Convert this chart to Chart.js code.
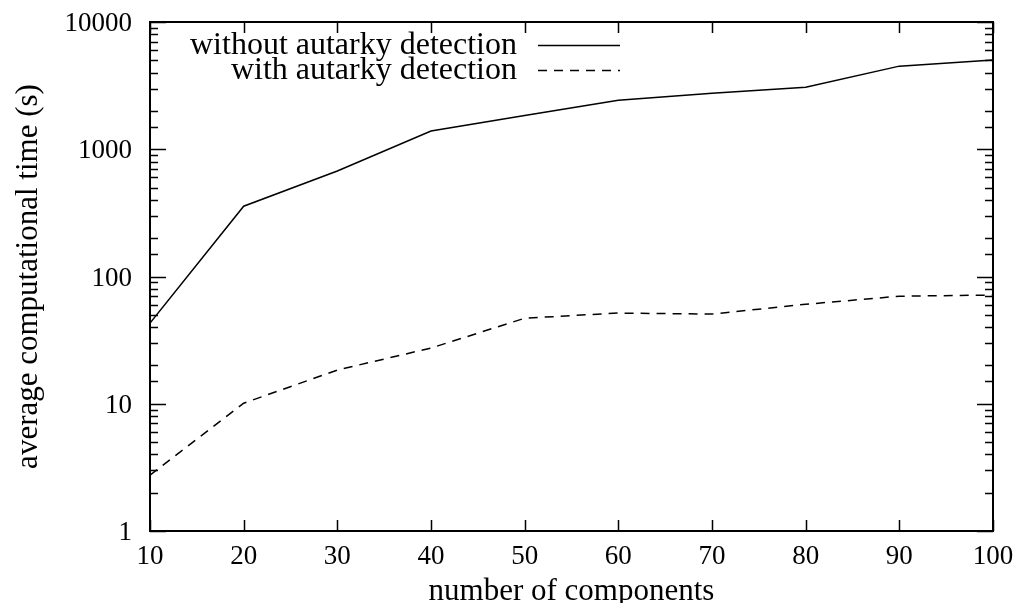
<!DOCTYPE html>
<html>
<head>
<meta charset="utf-8">
<script src="https://cdn.jsdelivr.net/npm/chart.js@4"></script>
<style>
  html, body { margin: 0; padding: 0; background: #fff; }
  #wrap { width: 1021px; height: 603px; }
</style>
</head>
<body>
<div id="wrap"><canvas id="timeChart" width="1021" height="603"></canvas></div>
<script>
// number of components on the x axis
const components = [10, 20, 30, 40, 50, 60, 70, 80, 90, 100];

// average computational time (s)
const withoutAutarky = [43, 357, 675, 1390, 1840, 2430, 2760, 3075, 4500, 5020];
const withAutarky = [2.75, 10.1, 18.4, 27.4, 47, 51.6, 50.7, 60.5, 70, 71.5];

const seriesLabels = ['without autarky detection', 'with autarky detection'];
const yLabels = [1, 10, 100, 1000, 10000];

const FONT = 'Liberation Serif';

function toPoints(values) {
    return components.map((x, i) => ({ x: x, y: values[i] }));
}

function isDecade(v) {
    const l = Math.log10(v);
    return Math.abs(l - Math.round(l)) < 1e-9;
}

/**
 * Gnuplot-like frame: full border box with inward ticks on all sides
 */
const frameAndTicks = {
    id: 'frameAndTicks',
    afterDatasetsDraw(chart) {
        const ctx = chart.ctx;
        const area = chart.chartArea;
        const xs = chart.scales.x;
        const ys = chart.scales.y;
        ctx.save();
        ctx.strokeStyle = '#000';
        ctx.lineWidth = 1.5;

        // x ticks, bottom and top
        ctx.beginPath();
        xs.ticks.forEach(t => {
            const px = Math.round(xs.getPixelForValue(t.value)) + 0.5;
            ctx.moveTo(px, area.bottom);
            ctx.lineTo(px, area.bottom - 11);
            ctx.moveTo(px, area.top);
            ctx.lineTo(px, area.top + 11);
        });

        // y ticks (decades long, the rest short), left and right
        ys.ticks.forEach(t => {
            const py = Math.round(ys.getPixelForValue(t.value)) + 0.5;
            const len = isDecade(t.value) ? 16 : 8;
            ctx.moveTo(area.left, py);
            ctx.lineTo(area.left + len, py);
            ctx.moveTo(area.right, py);
            ctx.lineTo(area.right - len, py);
        });
        ctx.stroke();

        ctx.lineWidth = 2;
        ctx.strokeRect(area.left, area.top, area.right - area.left, area.bottom - area.top);
        ctx.restore();
    }
};

/**
 * Key in the upper left: text right aligned, line sample on its right
 */
const keyBox = {
    id: 'keyBox',
    afterDraw(chart) {
        const ctx = chart.ctx;
        const area = chart.chartArea;
        const textRight = area.left + 367;
        const sampleLeft = area.left + 388;
        const sampleRight = area.left + 470;
        ctx.save();
        ctx.font = '32px "' + FONT + '"';
        ctx.fillStyle = '#000';
        ctx.textAlign = 'right';
        ctx.textBaseline = 'middle';
        chart.data.datasets.forEach((ds, i) => {
            const y = area.top + 23 + i * 25;
            ctx.fillText(ds.label, textRight, y + 1);
            ctx.beginPath();
            ctx.lineWidth = ds.borderWidth;
            ctx.strokeStyle = ds.borderColor;
            ctx.setLineDash(ds.borderDash || []);
            ctx.moveTo(sampleLeft, y + 0.5);
            ctx.lineTo(sampleRight, y + 0.5);
            ctx.stroke();
        });
        ctx.restore();
    }
};

const ctx = document.getElementById('timeChart').getContext('2d');
new Chart(ctx, {
    type: 'line',
    data: {
        datasets: [
            {
                label: seriesLabels[0],
                data: toPoints(withoutAutarky),
                borderColor: '#000',
                borderWidth: 1.5,
                pointRadius: 0,
                tension: 0,
                fill: false
            },
            {
                label: seriesLabels[1],
                data: toPoints(withAutarky),
                borderColor: '#000',
                borderWidth: 1.5,
                borderDash: [9, 7],
                pointRadius: 0,
                tension: 0,
                fill: false
            }
        ]
    },
    options: {
        responsive: false,
        animation: false,
        devicePixelRatio: 1,
        layout: { padding: { top: 22, right: 28, left: 0, bottom: 0 } },
        plugins: {
            legend: { display: false },
            tooltip: { enabled: false }
        },
        scales: {
            x: {
                type: 'linear',
                min: 10,
                max: 100,
                grid: { display: false, drawTicks: false },
                border: { display: false },
                ticks: {
                    stepSize: 10,
                    padding: 10,
                    color: '#000',
                    font: { family: FONT, size: 27 }
                },
                title: {
                    display: true,
                    text: 'number of components',
                    color: '#000',
                    font: { family: FONT, size: 31, lineHeight: 0.72 },
                    padding: { top: 0, bottom: 0 }
                },
                afterFit(scale) {
                    scale.height = 72;
                    scale.paddingLeft = 0;
                    scale.paddingRight = 0;
                }
            },
            y: {
                type: 'logarithmic',
                min: 1,
                max: 10000,
                grid: { display: false, drawTicks: false },
                border: { display: false },
                ticks: {
                    autoSkip: false,
                    padding: 18,
                    labelOffset: 2,
                    color: '#000',
                    font: { family: FONT, size: 27 },
                    callback: function(value) {
                        return yLabels.includes(value) ? String(value) : '';
                    }
                },
                title: {
                    display: true,
                    text: 'average computational time (s)',
                    color: '#000',
                    font: { family: FONT, size: 31 },
                    padding: { top: 10, bottom: 0 }
                },
                afterFit(scale) {
                    scale.width = 150;
                    scale.paddingTop = 0;
                    scale.paddingBottom = 0;
                }
            }
        }
    },
    plugins: [frameAndTicks, keyBox]
});
</script>
</body>
</html>
